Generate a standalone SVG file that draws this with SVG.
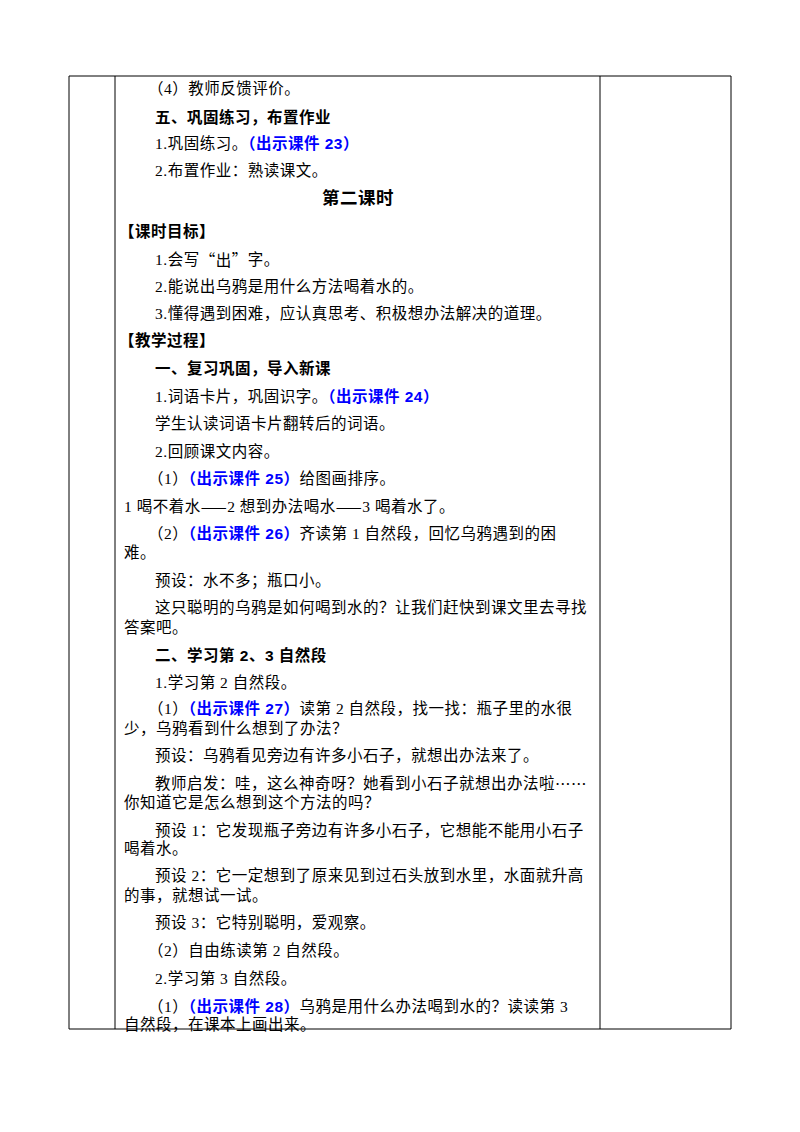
<svg xmlns="http://www.w3.org/2000/svg" width="800" height="1132" viewBox="0 0 800 1132">
<style>
text{font-family:"Liberation Serif","Noto Sans CJK SC",serif;font-size:15.5px;letter-spacing:0.5px;fill:#000;dominant-baseline:central}
.b{font-weight:bold;font-family:"Liberation Sans","Noto Sans CJK SC",sans-serif}
.t{font-size:17.5px}
.c{font-family:"Noto Sans CJK SC",sans-serif}
.u{fill:#0000ff;font-weight:bold;font-family:"Liberation Sans","Noto Sans CJK SC",sans-serif}
line{stroke:#000;stroke-width:1}
</style>
<rect width="800" height="1132" fill="#fff"/>
<g id="table">
<line x1="69" y1="76" x2="731" y2="76"/>
<line x1="69" y1="1029" x2="731" y2="1029"/>
<line x1="69" y1="76" x2="69" y2="1029"/>
<line x1="115" y1="76" x2="115" y2="1029"/>
<line x1="600" y1="76" x2="600" y2="1029"/>
<line x1="731" y1="76" x2="731" y2="1029"/>
</g>
<g id="content">
<text x="148" y="88">（4）教师反馈评价。</text>
<text x="155" y="117" class="b">五、巩固练习，布置作业</text>
<text x="155" y="143">1.巩固练习。<tspan class="u">（出示课件 23）</tspan></text>
<text x="155" y="170">2.布置作业：熟读课文。</text>
<text x="358" y="198" class="b t" text-anchor="middle">第二课时</text>
<text x="119" y="231" class="b">【课时目标】</text>
<text x="155" y="259">1.会写<tspan class="c">“出”</tspan>字。</text>
<text x="155" y="286">2.能说出乌鸦是用什么方法喝着水的。</text>
<text x="155" y="313">3.懂得遇到困难，应认真思考、积极想办法解决的道理。</text>
<text x="119" y="340" class="b">【教学过程】</text>
<text x="155" y="368" class="b">一、复习巩固，导入新课</text>
<text x="155" y="396">1.词语卡片，巩固识字。<tspan class="u">（出示课件 24）</tspan></text>
<text x="155" y="423">学生认读词语卡片翻转后的词语。</text>
<text x="155" y="451">2.回顾课文内容。</text>
<text x="148" y="478">（1）<tspan class="u">（出示课件 25）</tspan>给图画排序。</text>
<text x="124" y="506">1 喝不着水<tspan class="c">——</tspan>2 想到办法喝水<tspan class="c">——</tspan>3 喝着水了。</text>
<text x="148" y="533">（2）<tspan class="u">（出示课件 26）</tspan>齐读第 1 自然段，回忆乌鸦遇到的困</text>
<text x="124" y="552">难。</text>
<text x="155" y="580">预设：水不多；瓶口小。</text>
<text x="155" y="607">这只聪明的乌鸦是如何喝到水的？让我们赶快到课文里去寻找</text>
<text x="124" y="627">答案吧。</text>
<text x="155" y="655" class="b">二、学习第 2、3 自然段</text>
<text x="155" y="682">1.学习第 2 自然段。</text>
<text x="148" y="708">（1）<tspan class="u">（出示课件 27）</tspan>读第 2 自然段，找一找：瓶子里的水很</text>
<text x="124" y="728">少，乌鸦看到什么想到了办法？</text>
<text x="155" y="755">预设：乌鸦看见旁边有许多小石子，就想出办法来了。</text>
<text x="155" y="783">教师启发：哇，这么神奇呀？她看到小石子就想出办法啦<tspan class="c">……</tspan></text>
<text x="124" y="802">你知道它是怎么想到这个方法的吗？</text>
<text x="155" y="830">预设 1：它发现瓶子旁边有许多小石子，它想能不能用小石子</text>
<text x="124" y="848">喝着水。</text>
<text x="155" y="875">预设 2：它一定想到了原来见到过石头放到水里，水面就升高</text>
<text x="124" y="895">的事，就想试一试。</text>
<text x="155" y="922">预设 3：它特别聪明，爱观察。</text>
<text x="148" y="950">（2）自由练读第 2 自然段。</text>
<text x="155" y="978">2.学习第 3 自然段。</text>
<text x="148" y="1006">（1）<tspan class="u">（出示课件 28）</tspan>乌鸦是用什么办法喝到水的？读读第 3</text>
<text x="124" y="1024">自然段，在课本上画出来。</text>
</g>
</svg>
